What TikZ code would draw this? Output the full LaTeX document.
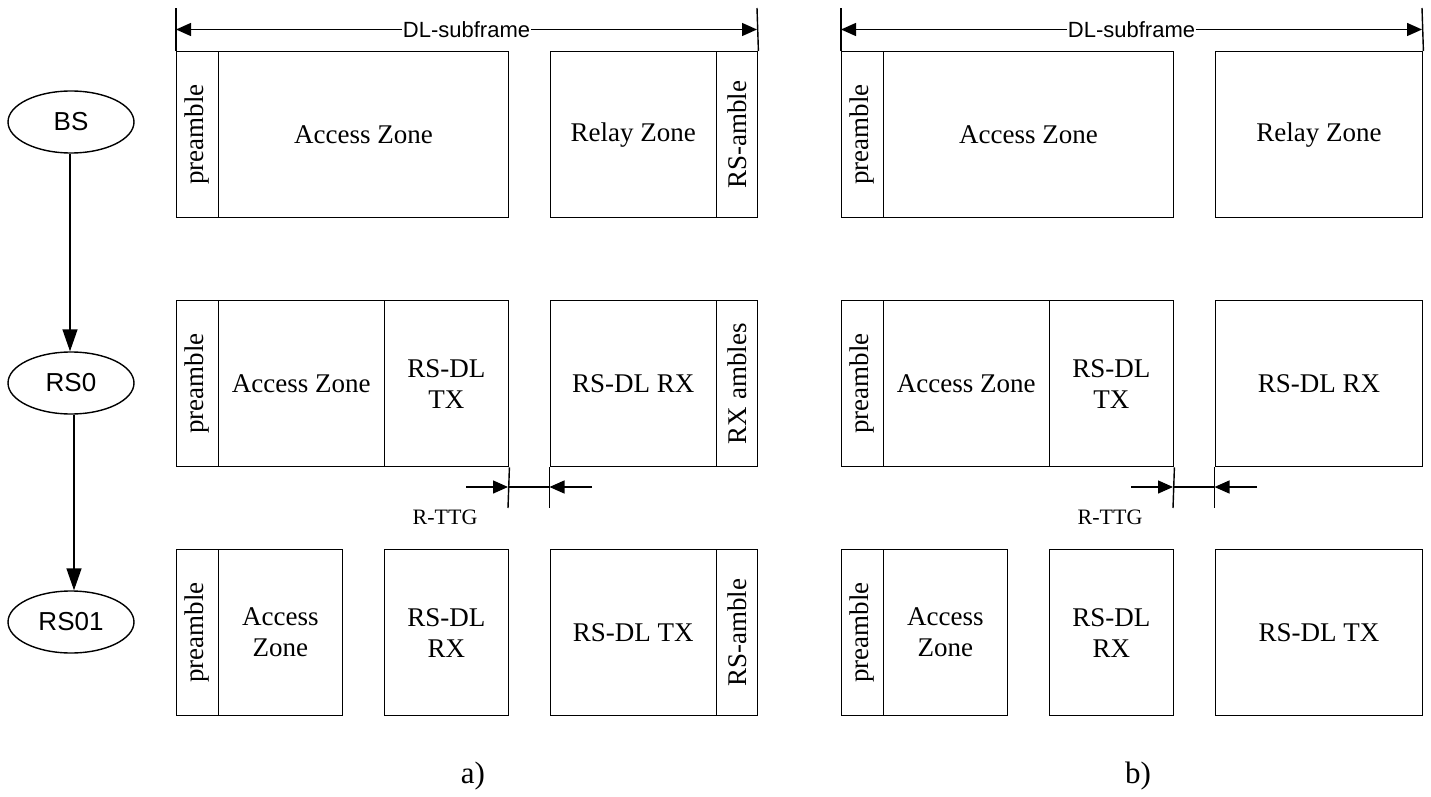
\documentclass[tikz,border=0pt]{standalone}
\usepackage{fontspec}
\setmainfont{Liberation Serif}
\setsansfont{Liberation Sans}
\usetikzlibrary{arrows.meta,shapes.geometric}
\newcommand\zfont{\fontsize{27}{31}\selectfont}
\newcommand\efont{\sffamily\fontsize{26}{30}\selectfont}
\newcommand\dfont{\sffamily\fontsize{22}{26}\selectfont}
\newcommand\gfont{\fontsize{22}{26}\selectfont}
\newcommand\pfont{\fontsize{31}{36}\selectfont}
\newcommand\zb[5]{\node[zone,minimum width=#4pt] (#1) at (#2,#3) {#5};}
\tikzset{
  zone/.style={draw, line width=1.4pt, rectangle, anchor=north west, minimum height=166pt, inner sep=0pt, align=center, font=\zfont},
  vlab/.style={rotate=90, font=\zfont, inner sep=0pt},
  ell/.style={draw, ellipse, line width=1.4pt, minimum width=126pt, minimum height=62pt, inner sep=0pt, font=\efont},
  flow/.style={line width=1.4pt, -{Triangle[length=22pt,width=15pt]}},
  dimline/.style={line width=1.4pt, {Triangle[length=15pt,width=13pt]}-{Triangle[length=15pt,width=13pt]}},
  tickline/.style={line width=1.4pt},
  gaparrow/.style={line width=1.4pt, -{Triangle[length=15pt,width=13pt]}},
  dimlabel/.style={font=\dfont, fill=white, inner sep=1pt},
}
\begin{document}
\begin{tikzpicture}[x=1pt,y=-1pt]
\useasboundingbox (0,0) rectangle (1431,797);

% ---- stations ----
\node[ell] (BS) at (71,122) {BS};
\node[ell] (RS0) at (71,383) {RS0};
\node[ell] (RS01) at (71,622) {RS01};
\draw[flow] ([xshift=-1pt]BS.south) -- ([xshift=-1pt]RS0.north);
\draw[flow] ([xshift=3pt]RS0.south) -- ([xshift=3pt]RS01.north);

% ---- panel a ----
% row 1
\zb{a1pre}{176}{51}{41.5}{}
\zb{a1acc}{217.5}{51}{290.5}{Access Zone}
\zb{a1rel}{549.5}{51}{166}{Relay Zone}
\zb{a1amb}{715.5}{51}{41.5}{}
\node[vlab] (a1prel) at (a1pre.center) {preamble};
\node[vlab] (a1ambl) at (a1amb.center) {RS-amble};
% row 2
\zb{a2pre}{176}{300}{41.5}{}
\zb{a2acc}{217.5}{300}{166}{Access Zone}
\zb{a2tx}{383.5}{300}{124.5}{RS-DL\\TX}
\zb{a2rx}{549.5}{300}{166}{RS-DL RX}
\zb{a2amb}{715.5}{300}{41.5}{}
\node[vlab] (a2prel) at (a2pre.center) {preamble};
\node[vlab] (a2ambl) at (a2amb.center) {RX ambles};
% row 3
\zb{a3pre}{176}{549}{41.5}{}
\zb{a3acc}{217.5}{549}{124.5}{Access\\Zone}
\zb{a3rx}{383.5}{549}{124.5}{RS-DL\\RX}
\zb{a3tx}{549.5}{549}{166}{RS-DL TX}
\zb{a3amb}{715.5}{549}{41.5}{}
\node[vlab] (a3prel) at (a3pre.center) {preamble};
\node[vlab] (a3ambl) at (a3amb.center) {RS-amble};
% DL-subframe
\coordinate (aTopL) at (176,8);
\coordinate (aTopR) at (757,8);
\coordinate (aDimL) at (176,29.5);
\coordinate (aDimR) at (757,29.5);
\draw[tickline] (a1pre.north west) -- (aTopL);
\draw[tickline] (a1amb.north east) -- (aTopR);
\draw[dimline] (aDimL) -- (aDimR) node[midway, dimlabel] (aDL) {DL-subframe};
% R-TTG
\coordinate (aG1) at (508,508);
\coordinate (aG2) at (549.5,508);
\coordinate (aG1m) at (508,487);
\coordinate (aG2m) at (549.5,487);
\coordinate (aGL) at (466,487);
\coordinate (aGR) at (592,487);
\draw[tickline] (a2tx.south east) -- (aG1);
\draw[tickline] (a2rx.south west) -- (aG2);
\draw[gaparrow] (aGL) -- (aG1m);
\draw[gaparrow] (aGR) -- (aG2m);
\draw[tickline] (aG1m) -- (aG2m);
\node[font=\gfont] (aRTTG) at (445,517) {R-TTG};
\node[font=\pfont] (alab) at (473,776) {a)};

% ---- panel b ----
% row 1
\zb{b1pre}{841}{51}{41.5}{}
\zb{b1acc}{882.5}{51}{290.5}{Access Zone}
\zb{b1rel}{1214.5}{51}{207.5}{Relay Zone}
\node[vlab] (b1prel) at (b1pre.center) {preamble};
% row 2
\zb{b2pre}{841}{300}{41.5}{}
\zb{b2acc}{882.5}{300}{166}{Access Zone}
\zb{b2tx}{1048.5}{300}{124.5}{RS-DL\\TX}
\zb{b2rx}{1214.5}{300}{207.5}{RS-DL RX}
\node[vlab] (b2prel) at (b2pre.center) {preamble};
% row 3
\zb{b3pre}{841}{549}{41.5}{}
\zb{b3acc}{882.5}{549}{124.5}{Access\\Zone}
\zb{b3rx}{1048.5}{549}{124.5}{RS-DL\\RX}
\zb{b3tx}{1214.5}{549}{207.5}{RS-DL TX}
\node[vlab] (b3prel) at (b3pre.center) {preamble};
% DL-subframe
\coordinate (bTopL) at (841,8);
\coordinate (bTopR) at (1422,8);
\coordinate (bDimL) at (841,29.5);
\coordinate (bDimR) at (1422,29.5);
\draw[tickline] (b1pre.north west) -- (bTopL);
\draw[tickline] (b1rel.north east) -- (bTopR);
\draw[dimline] (bDimL) -- (bDimR) node[midway, dimlabel] (bDL) {DL-subframe};
% R-TTG
\coordinate (bG1) at (1173,508);
\coordinate (bG2) at (1214.5,508);
\coordinate (bG1m) at (1173,487);
\coordinate (bG2m) at (1214.5,487);
\coordinate (bGL) at (1131,487);
\coordinate (bGR) at (1257,487);
\draw[tickline] (b2tx.south east) -- (bG1);
\draw[tickline] (b2rx.south west) -- (bG2);
\draw[gaparrow] (bGL) -- (bG1m);
\draw[gaparrow] (bGR) -- (bG2m);
\draw[tickline] (bG1m) -- (bG2m);
\node[font=\gfont] (bRTTG) at (1110,517) {R-TTG};
\node[font=\pfont] (blab) at (1138,776) {b)};
\end{tikzpicture}
\end{document}
